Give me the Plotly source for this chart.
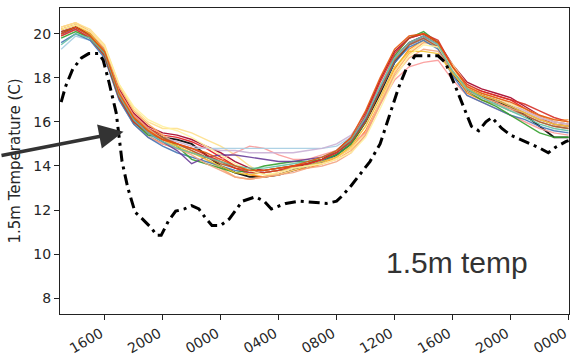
import plotly.graph_objects as go

# Hours since 00:00 on day 1 (hourly ensemble output, 13:00 day 1 -> 00:00 day 3)
hours = list(range(13, 49))

# 1.5 m temperature (C) for each ensemble member
members = {
    "#000000": [20.0,20.3,19.9,19.1,17.2,16.1,15.6,15.3,15.2,15.0,14.5,14.0,13.7,13.5,13.5,13.6,13.8,14.0,14.2,14.5,15.0,16.0,17.3,18.7,19.5,19.8,19.4,18.2,17.4,17.2,16.9,16.7,16.3,15.8,15.3,15.3],
    "#e31a1c": [20.2,20.4,20.0,19.2,17.4,16.3,15.7,15.4,15.3,15.1,14.8,14.4,14.0,13.8,13.7,13.8,13.9,14.1,14.3,14.6,15.2,16.2,17.6,18.9,19.6,19.9,19.5,18.4,17.6,17.4,17.2,17.0,16.6,16.2,15.9,15.8],
    "#a50026": [20.1,20.3,20.0,19.3,17.5,16.4,15.8,15.5,15.4,15.2,14.9,14.6,14.2,13.9,13.8,13.9,14.0,14.1,14.3,14.7,15.3,16.4,17.9,19.2,19.8,20.0,19.6,18.6,17.8,17.5,17.3,17.1,16.7,16.3,16.0,15.9],
    "#ff7f0e": [19.9,20.2,19.8,19.0,17.1,16.0,15.4,15.0,14.8,14.6,14.4,14.2,13.9,13.6,13.5,13.6,13.8,13.9,14.1,14.4,14.8,15.6,16.9,18.4,19.3,19.7,19.4,18.3,17.3,17.0,16.8,16.5,16.3,16.0,15.8,15.7],
    "#fdae61": [20.3,20.5,20.1,19.4,17.6,16.5,15.9,15.4,15.0,14.7,14.3,13.9,13.5,13.4,13.5,13.7,13.9,14.0,14.1,14.3,14.7,15.4,16.8,18.2,19.1,19.6,19.5,18.5,17.6,17.2,17.0,16.8,16.5,16.2,16.1,16.1],
    "#fee08b": [20.3,20.5,20.2,19.5,17.7,16.6,16.0,15.7,15.7,15.5,15.2,14.9,14.5,14.0,13.6,13.6,13.8,14.0,14.2,14.4,14.8,15.5,16.9,18.3,19.2,19.7,19.5,18.6,17.7,17.3,17.1,16.8,16.5,16.2,16.0,15.9],
    "#fb9a99": [20.0,20.2,19.8,19.0,17.0,15.9,15.3,15.0,14.8,14.6,14.4,14.3,14.6,14.9,14.8,14.5,14.3,14.3,14.5,14.7,15.0,15.5,16.8,17.9,18.5,18.7,18.8,17.9,17.2,16.9,16.6,16.3,16.0,15.7,15.5,15.4],
    "#a6cee3": [19.3,19.9,19.7,19.0,17.0,15.9,15.4,15.1,14.9,14.8,14.8,14.8,14.8,14.8,14.8,14.8,14.8,14.8,14.8,14.9,15.3,16.3,17.6,18.9,19.5,19.8,19.4,18.3,17.5,17.1,16.8,16.5,16.3,16.0,15.8,15.7],
    "#4575b4": [19.6,20.0,19.7,18.9,17.0,15.9,15.3,14.9,14.6,14.4,14.2,14.0,13.8,13.7,13.7,13.8,13.9,14.0,14.2,14.5,15.0,16.1,17.4,18.7,19.4,19.7,19.3,18.1,17.2,16.9,16.6,16.3,16.1,15.8,15.6,15.5],
    "#33a02c": [19.8,20.1,19.8,19.0,17.1,16.0,15.4,15.3,14.9,14.3,14.1,13.9,13.7,13.8,14.0,14.1,14.2,14.2,14.3,14.5,15.0,16.0,17.5,19.0,19.8,20.1,19.6,18.3,17.4,17.0,16.7,16.3,15.9,15.5,15.3,15.3],
    "#6a3d9a": [20.0,20.2,19.9,19.1,17.2,16.1,15.5,15.1,14.7,14.1,14.4,14.5,14.5,14.4,14.3,14.2,14.2,14.3,14.4,14.6,15.1,16.1,17.5,18.9,19.6,19.9,19.5,18.4,17.5,17.2,17.0,16.7,16.4,16.1,15.9,15.8],
    "#cab2d6": [19.9,20.2,19.9,19.2,17.3,16.2,15.6,15.3,15.1,14.9,14.8,14.7,14.7,14.6,14.6,14.6,14.6,14.7,14.8,15.0,15.4,16.3,17.6,18.9,19.5,19.8,19.5,18.4,17.6,17.3,17.1,16.8,16.5,16.2,16.0,15.9],
    "#b15928": [20.1,20.3,19.9,19.1,17.2,16.2,15.7,15.3,15.0,14.7,14.4,14.1,13.9,13.8,13.8,13.9,14.0,14.1,14.3,14.6,15.1,16.0,17.4,18.8,19.5,19.8,19.4,18.3,17.5,17.2,16.9,16.6,16.3,16.0,15.8,15.7],
    "#f4a582": [20.2,20.4,20.1,19.3,17.4,16.3,15.7,15.2,14.8,14.5,14.1,13.8,13.5,13.4,13.5,13.6,13.7,13.9,14.0,14.2,14.6,15.4,16.8,18.1,18.9,19.3,19.2,18.3,17.4,17.1,16.9,16.6,16.4,16.1,15.9,15.8],
    "#f1c232": [20.2,20.4,20.0,19.2,17.3,16.2,15.6,15.2,14.9,14.6,14.3,14.0,13.7,13.6,13.7,13.8,13.9,14.0,14.2,14.4,14.9,15.8,17.1,18.5,19.2,19.2,19.1,18.2,17.5,17.2,17.0,16.7,16.4,16.1,15.9,15.8],
    "#d73027": [19.9,20.2,19.8,19.0,17.1,16.0,15.5,15.2,15.0,14.8,14.5,14.2,13.9,13.7,13.7,13.8,14.0,14.1,14.3,14.6,15.2,16.3,17.8,19.1,19.8,20.0,19.7,18.5,17.7,17.4,17.2,17.0,16.8,16.5,16.2,16.0],
    "#fff2a0": [20.2,20.4,20.1,19.4,17.7,16.7,16.1,15.8,15.6,15.3,14.9,14.5,14.1,13.8,13.6,13.7,13.9,14.0,14.1,14.3,14.6,15.3,16.6,18.0,19.0,19.5,19.4,18.4,17.6,17.3,17.1,16.8,16.6,16.3,16.1,16.0],
    "#66c2a5": [19.5,20.0,19.8,19.1,17.2,16.1,15.5,15.1,14.8,14.6,14.4,14.2,14.0,13.9,13.9,14.0,14.1,14.2,14.4,14.7,15.2,16.2,17.6,18.9,19.6,19.9,19.5,18.3,17.5,17.1,16.8,16.5,16.2,15.9,15.7,15.6],
    "#e6550d": [20.0,20.3,19.9,19.2,17.3,16.2,15.6,15.2,15.0,14.8,14.6,14.3,14.0,13.8,13.8,13.9,14.0,14.2,14.4,14.7,15.3,16.5,18.0,19.3,19.9,20.0,19.6,18.5,17.6,17.3,17.1,16.9,16.6,16.3,16.1,16.0],
}

# Observed 1.5 m temperature (C)
obs_hours = [13.0,13.3,13.8,14.4,14.9,15.6,15.9,16.3,16.8,17.2,17.6,18.1,18.6,19.2,19.6,19.9,
             20.4,20.9,21.5,22.0,22.5,23.0,23.4,24.0,24.6,25.1,25.5,26.4,27.0,27.5,28.5,29.4,
             30.3,31.3,32.0,32.4,33.0,33.7,34.3,35.0,35.8,36.3,36.8,37.4,39.0,39.5,40.2,40.9,
             41.3,41.8,42.3,42.7,43.4,44.0,45.0,45.9,46.6,47.1,47.8,48.0]
obs_temp = [16.9,17.6,18.4,18.9,19.1,19.1,18.8,17.8,16.4,14.2,13.0,11.9,11.6,11.2,10.85,10.85,
            11.5,11.95,12.05,12.2,12.05,11.6,11.3,11.3,11.6,12.05,12.4,12.6,12.4,12.05,12.3,12.4,
            12.35,12.3,12.4,12.65,13.1,13.7,14.2,15.0,16.6,17.6,18.4,19.0,19.0,18.7,17.6,16.4,
            15.8,15.6,16.0,16.2,15.7,15.4,15.1,14.85,14.6,14.85,15.1,15.15]

tick_hours = [16, 20, 24, 28, 32, 36, 40, 44, 48]
tick_labels = ["1600", "2000", "0000", "0400", "0800", "1200", "1600", "2000", "0000"]
y_ticks = [8, 10, 12, 14, 16, 18, 20]

fig = go.Figure()

for colour, temps in members.items():
    fig.add_trace(go.Scatter(
        x=hours, y=temps, mode="lines",
        line=dict(color=colour, width=1.8 if colour == "#000000" else 1.4),
        opacity=0.9, showlegend=False, hoverinfo="skip",
    ))

fig.add_trace(go.Scatter(
    x=obs_hours, y=obs_temp, mode="lines",
    line=dict(color="#000000", width=3, dash="11px,5px,3px,5px"),
    showlegend=False, hoverinfo="skip",
))

axis_common = dict(
    showgrid=False, zeroline=False, showline=True, mirror=True,
    linecolor="#222222", linewidth=1.2,
    ticks="outside", ticklen=5, tickcolor="#222222", tickwidth=1,
    tickfont=dict(family="DejaVu Sans", size=14, color="#262626"),
)

fig.update_xaxes(
    range=[12.92, 48.03], tickvals=tick_hours, ticktext=tick_labels,
    tickangle=-30, ticklabeloverflow="allow", ticklabelshift=-4,
    **axis_common,
)
fig.update_yaxes(
    range=[7.28, 21.17], tickvals=y_ticks,
    title=dict(text="1.5m Temperature (C)", standoff=9,
               font=dict(family="DejaVu Sans", size=15, color="#262626")),
    **axis_common,
)

# arrow pointing at the ensemble spread
fig.add_annotation(
    x=17.3, y=15.55, xref="x", yref="y", text="",
    showarrow=True, ax=-126, ay=24, axref="pixel", ayref="pixel",
    arrowhead=2, arrowsize=1.4, arrowwidth=3.5, arrowcolor="#333333",
)

fig.add_annotation(
    x=35.26, y=9.63, xref="x", yref="y", text="1.5m temp",
    showarrow=False, xanchor="left", yanchor="middle",
    font=dict(family="Liberation Sans", size=30, color="#333333"),
)

fig.update_layout(
    width=571, height=357,
    margin=dict(l=60, r=1, t=8, b=40),
    paper_bgcolor="white", plot_bgcolor="white",
)

fig.write_html("out.html")
